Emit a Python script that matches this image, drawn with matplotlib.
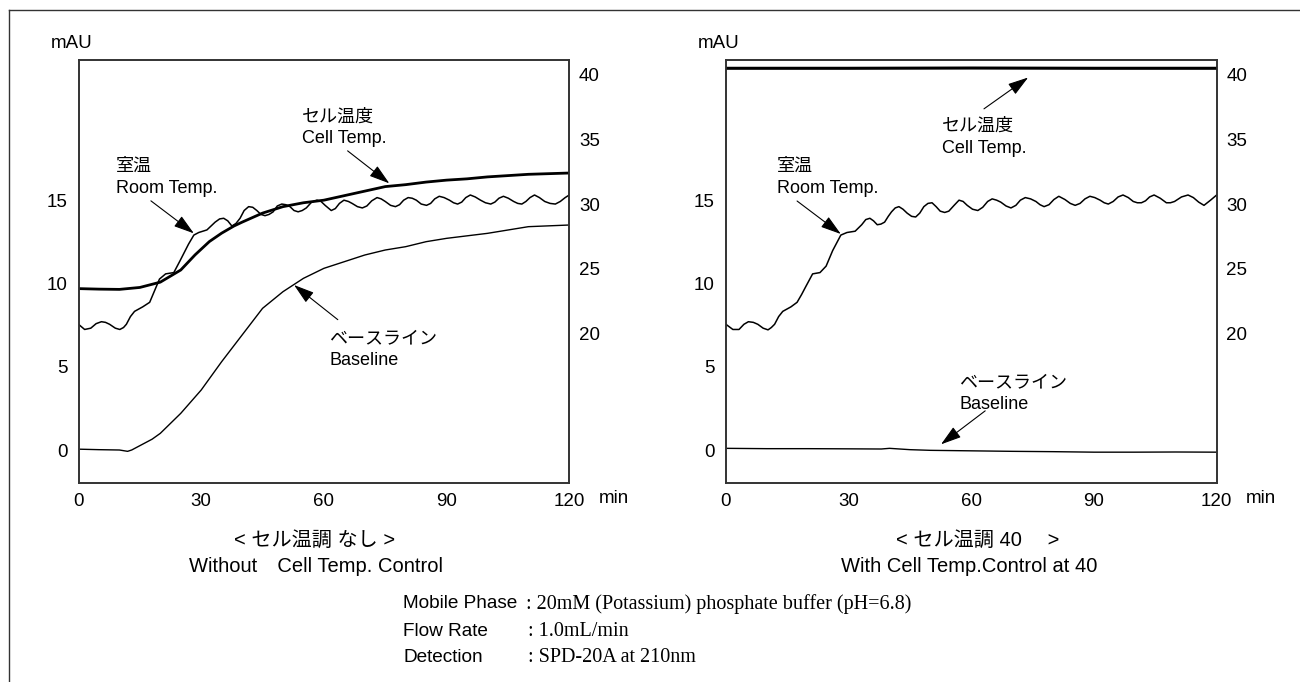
import matplotlib.pyplot as plt
from matplotlib.lines import Line2D

plt.rcParams['font.family'] = ['Liberation Sans', 'Noto Sans CJK JP']

# --- Without cell temperature control (left) ---
room_t_left = [0, 1.5, 3.0, 4.3, 5.6, 6.6, 7.6, 9.0, 10.1, 11.0, 11.7, 12.7, 13.7, 15.7, 17.4,
               18.6, 19.8, 21.3, 23.3, 24.8, 26.9, 28.2, 29.4, 31.4, 33.4, 34.5, 35.5, 36.5,
               37.5, 38.5, 39.5, 40.5, 41.6, 42.6, 43.6, 44.6, 45.6, 46.6, 47.6, 48.6, 49.7,
               50.7, 51.7, 52.7, 53.7, 54.7, 55.7, 57.0, 58.3, 59.3, 60.3, 61.8, 62.8, 63.8,
               64.9, 66.0, 66.9, 68.2, 69.4, 70.5, 71.7, 73.0, 74.0, 75.0, 76.3, 77.5, 78.5,
               79.5, 80.6, 81.6, 82.6, 83.8, 85.1, 86.1, 87.1, 88.2, 89.4, 90.7, 91.7, 92.7,
               93.7, 94.7, 95.8, 97.0, 98.3, 99.5, 100.8, 101.8, 102.8, 103.9, 105.1, 106.4,
               107.4, 108.4, 109.4, 110.4, 111.5, 112.7, 114.0, 115.3, 116.6, 117.8, 119.0, 120]
room_left = [20.7, 20.3, 20.4, 20.75, 20.9, 20.85, 20.7, 20.4, 20.3, 20.45, 20.7, 21.3, 21.7,
             22.05, 22.4, 23.3, 24.2, 24.6, 24.7, 25.6, 26.9, 27.6, 27.8, 28.0, 28.6, 28.85,
             28.9, 28.7, 28.3, 28.5, 28.9, 29.5, 29.8, 29.75, 29.5, 29.2, 29.1, 29.2, 29.4,
             29.85, 30.0, 29.95, 29.8, 29.5, 29.4, 29.5, 29.7, 30.15, 30.3, 30.2, 29.9, 29.5,
             29.65, 30.05, 30.3, 30.2, 30.05, 29.8, 29.7, 29.85, 30.25, 30.5, 30.4, 30.2,
             29.9, 29.8, 29.95, 30.3, 30.5, 30.45, 30.3, 30.0, 29.9, 30.05, 30.4, 30.6, 30.5,
             30.3, 30.1, 30.0, 30.15, 30.5, 30.7, 30.55, 30.3, 30.1, 30.0, 30.15, 30.45, 30.6,
             30.45, 30.2, 30.05, 30.0, 30.2, 30.5, 30.7, 30.5, 30.2, 30.05, 30.0, 30.2, 30.5,
             30.7]

cell_t_left = [0, 5, 10, 15, 20, 25, 28.5, 32, 35, 38, 40, 45, 50, 55, 60, 65, 70, 75, 80,
               85, 90, 95, 100, 110, 120]
cell_left = [23.46, 23.42, 23.4, 23.55, 23.96, 24.9, 26.07, 27.1, 27.75, 28.3, 28.6, 29.3,
             29.8, 30.1, 30.3, 30.65, 31.0, 31.35, 31.5, 31.7, 31.85, 31.95, 32.1, 32.3, 32.4]

base_t_left = [0, 5, 10, 12, 13, 15, 18, 20, 25, 30, 35, 40, 45, 50, 55, 60, 65, 70, 75, 80,
               85, 90, 95, 100, 105, 110, 115, 120]
base_left = [0.05, 0.02, 0.0, -0.08, 0.0, 0.26, 0.65, 1.0, 2.2, 3.6, 5.3, 6.9, 8.5, 9.5,
             10.3, 10.9, 11.3, 11.7, 12.0, 12.2, 12.5, 12.7, 12.85, 13.0, 13.2, 13.4, 13.45,
             13.5]

# --- With cell temperature control at 40 (right) ---
room_t_right = [0, 1.7, 3.2, 4.4, 5.5, 6.7, 7.8, 9.1, 10.3, 11.1, 11.9, 12.9, 13.9, 15.9,
                17.4, 18.5, 19.5, 21.2, 23.0, 24.5, 26.1, 28.1, 29.6, 31.6, 33.2, 34.2, 35.2,
                36.1, 37.0, 37.9, 38.8, 39.7, 40.5, 41.4, 42.3, 43.3, 44.3, 45.4, 46.4, 47.4,
                48.4, 49.4, 50.4, 51.4, 52.4, 53.5, 54.5, 55.8, 57.0, 58.0, 59.0, 60.3, 61.6,
                62.8, 64.0, 65.1, 66.2, 67.2, 68.5, 69.7, 70.9, 72.0, 73.2, 74.5, 75.8, 76.8,
                77.8, 79.0, 80.2, 81.4, 82.9, 84.2, 85.4, 86.6, 87.8, 89.0, 90.2, 91.5, 92.5,
                93.5, 94.7, 95.9, 97.1, 98.4, 99.6, 100.6, 101.6, 102.6, 103.6, 104.7, 106.2,
                107.7, 108.7, 109.7, 111.4, 113.0, 114.3, 115.6, 116.9, 118.5, 120]
room_right = [20.7, 20.3, 20.3, 20.7, 20.9, 20.85, 20.7, 20.4, 20.27, 20.45, 20.7, 21.3, 21.7,
              22.05, 22.4, 23.0, 23.6, 24.6, 24.7, 25.2, 26.4, 27.6, 27.8, 27.9, 28.4, 28.8,
              28.9, 28.7, 28.4, 28.45, 28.6, 29.05, 29.4, 29.7, 29.8, 29.6, 29.3, 29.05, 29.0,
              29.3, 29.8, 30.05, 30.1, 29.8, 29.45, 29.35, 29.45, 29.9, 30.3, 30.2, 29.9, 29.6,
              29.5, 29.75, 30.2, 30.4, 30.3, 30.15, 29.85, 29.7, 29.9, 30.3, 30.5, 30.4, 30.2,
              29.95, 29.8, 29.95, 30.35, 30.6, 30.35, 30.05, 29.9, 30.05, 30.4, 30.6, 30.5,
              30.3, 30.1, 30.0, 30.2, 30.55, 30.7, 30.5, 30.2, 30.1, 30.1, 30.25, 30.55, 30.7,
              30.45, 30.1, 30.1, 30.2, 30.55, 30.7, 30.5, 30.15, 29.9, 30.3, 30.7]

cell_t_right = [0, 30, 60, 90, 120]
cell_right = [40.5, 40.5, 40.52, 40.5, 40.5]

base_t_right = [0, 10, 20, 30, 38, 40, 45, 50, 60, 70, 80, 90, 100, 110, 120]
base_right = [0.1, 0.08, 0.08, 0.07, 0.06, 0.1, 0.02, -0.02, -0.05, -0.08, -0.1, -0.13,
              -0.13, -0.12, -0.13]

xticks = [0, 30, 60, 90, 120]
mau_ticks = [0, 5, 10, 15]
temp_ticks = [20, 25, 30, 35, 40]

FS_TICK = 13.5
FS_NOTE = 13
FS_CAP = 14.5
FS_COND = 13.7
ARROW = dict(arrowstyle='-|>,head_length=0.9,head_width=0.28', color='black', lw=0.8,
             mutation_scale=14, shrinkA=0, shrinkB=0)

fig = plt.figure(figsize=(13, 6.82), dpi=100)


def make_panel(left):
    ax = fig.add_axes([left, 0.2913, 0.3775, 0.6207])
    ax.set_xlim(0, 120)
    ax.set_ylim(-2.0, 23.4)
    ax.set_xticks(xticks)
    ax.set_xticklabels([str(v) for v in xticks])
    ax.set_yticks(mau_ticks)
    ax.tick_params(axis='both', length=0, labelsize=FS_TICK)
    ax.tick_params(axis='x', pad=7)
    ax.tick_params(axis='y', pad=8)
    ax2 = ax.twinx()
    ax2.set_ylim(8.4, 41.14)
    ax2.set_yticks(temp_ticks)
    ax2.tick_params(axis='y', length=0, labelsize=FS_TICK, pad=7)
    for a in (ax, ax2):
        for s in a.spines.values():
            s.set_linewidth(1.2)
            s.set_color('#333333')
    ax.text(-0.014, 1.039, 'mAU', transform=ax.transAxes, ha='center', va='center',
            fontsize=FS_TICK)
    ax.text(1.06, -0.037, 'min', transform=ax.transAxes, ha='left', va='center',
            fontsize=FS_TICK)
    return ax, ax2


def label(ax, x, y_jp, y_en, jp, en):
    ax.text(x, y_jp, jp, ha='left', va='center', fontsize=FS_NOTE)
    ax.text(x, y_en, en, ha='left', va='center', fontsize=FS_NOTE)


# left panel
axl, axl2 = make_panel(0.0604)
axl.plot(base_t_left, base_left, color='black', lw=1.0)
axl2.plot(room_t_left, room_left, color='black', lw=1.1)
axl2.plot(cell_t_left, cell_left, color='black', lw=2.0)

label(axl, 54.7, 20.0, 18.7, 'セル温度', 'Cell Temp.')
axl.annotate('', xy=(76.0, 16.0), xytext=(65.8, 17.95), arrowprops=ARROW)
label(axl, 9.1, 17.0, 15.67, '室温', 'Room Temp.')
axl.annotate('', xy=(28.2, 13.0), xytext=(17.7, 14.95), arrowprops=ARROW)
label(axl, 61.3, 6.67, 5.35, 'ベースライン', 'Baseline')
axl.annotate('', xy=(52.7, 9.9), xytext=(63.4, 7.82), arrowprops=ARROW)

# right panel
axr, axr2 = make_panel(0.5584)
axr.plot(base_t_right, base_right, color='black', lw=1.0)
axr2.plot(room_t_right, room_right, color='black', lw=1.1)
axr2.plot(cell_t_right, cell_right, color='black', lw=2.2)

label(axr, 52.9, 19.44, 18.12, 'セル温度', 'Cell Temp.')
axr.annotate('', xy=(73.9, 22.35), xytext=(63.1, 20.47), arrowprops=ARROW)
label(axr, 12.4, 17.0, 15.67, '室温', 'Room Temp.')
axr.annotate('', xy=(28.1, 12.96), xytext=(17.4, 14.94), arrowprops=ARROW)
label(axr, 57.0, 4.03, 2.74, 'ベースライン', 'Baseline')
axr.annotate('', xy=(52.6, 0.34), xytext=(63.4, 2.35), arrowprops=ARROW)

# panel captions
W, H = 1300, 682
fig.text(315 / W, 1 - 540 / H, '< セル温調 なし >', ha='center', va='center', fontsize=FS_CAP)
fig.text(315.7 / W, 1 - 566 / H, 'Without\u3000Cell Temp. Control', ha='center', va='center',
         fontsize=FS_CAP)
fig.text(978 / W, 1 - 540 / H, '< セル温調 40\u3000 >', ha='center', va='center',
         fontsize=FS_CAP)
fig.text(969 / W, 1 - 566 / H, 'With Cell Temp.Control at 40', ha='center', va='center',
         fontsize=FS_CAP)

# conditions
rows = [('Mobile Phase', ': 20mM (Potassium) phosphate buffer (pH=6.8)', 604, 525.7),
        ('Flow Rate', ': 1.0mL/min', 631, 528.3),
        ('Detection', ': SPD-20A at 210nm', 657, 528.3)]
for name, value, y, xv in rows:
    fig.text(403.3 / W, 1 - y / H, name, ha='left', va='center', fontsize=FS_COND)
    fig.text(xv / W, 1 - y / H, value, ha='left', va='center', fontsize=FS_CAP,
             family='Liberation Serif')

# outer frame
fig.add_artist(Line2D([9.1 / W, 1], [1 - 9.6 / H, 1 - 9.6 / H], color='#333333', lw=1.0))
fig.add_artist(Line2D([9.1 / W, 9.1 / W], [0, 1 - 9.6 / H], color='#333333', lw=1.0))

fig.savefig('out.png', dpi=100)
